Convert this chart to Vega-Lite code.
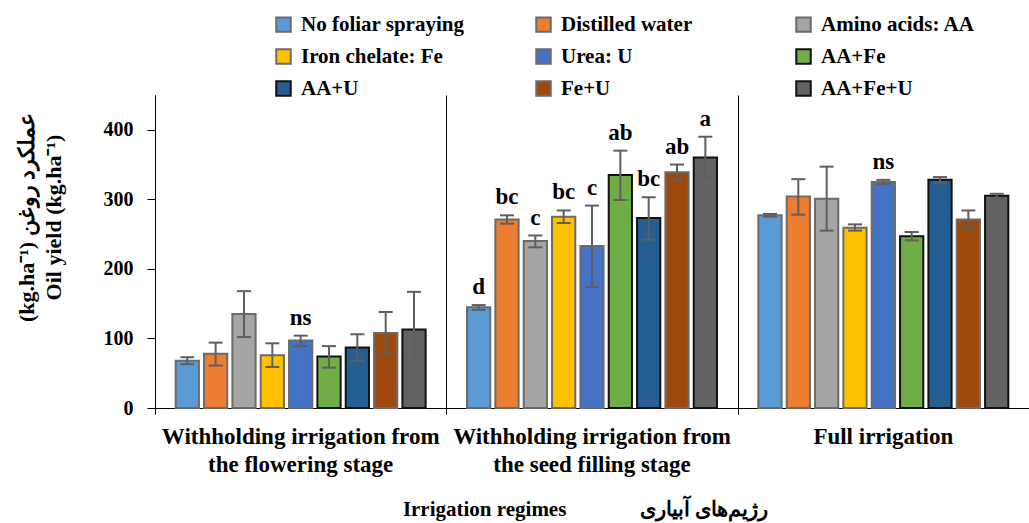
{
  "$schema": "https://vega.github.io/schema/vega-lite/v6.json",
  "width": 874,
  "height": 313,
  "autosize": {"type": "none"},
  "padding": {"left": 155, "top": 95, "right": 0, "bottom": 115},
  "background": "white",
  "config": {
    "font": "Liberation Serif",
    "view": {"stroke": null},
    "axis": {"grid": false, "domainColor": "black", "tickColor": "black", "labelColor": "black", "titleColor": "black", "labelFont": "Liberation Serif", "titleFont": "Liberation Serif", "labelFontWeight": "bold", "titleFontWeight": "bold"}
  },
  "datasets": {
    "bars": [
      {"regime": "Withholding irrigation from the flowering stage", "treatment": "No foliar spraying", "mean": 68, "lower": 63, "upper": 73, "letter": ""},
      {"regime": "Withholding irrigation from the flowering stage", "treatment": "Distilled water", "mean": 78, "lower": 61, "upper": 94, "letter": ""},
      {"regime": "Withholding irrigation from the flowering stage", "treatment": "Amino acids: AA", "mean": 135, "lower": 102, "upper": 168, "letter": ""},
      {"regime": "Withholding irrigation from the flowering stage", "treatment": "Iron chelate: Fe", "mean": 76, "lower": 59, "upper": 93, "letter": ""},
      {"regime": "Withholding irrigation from the flowering stage", "treatment": "Urea: U", "mean": 97, "lower": 89, "upper": 104, "letter": "ns"},
      {"regime": "Withholding irrigation from the flowering stage", "treatment": "AA+Fe", "mean": 74, "lower": 58, "upper": 89, "letter": ""},
      {"regime": "Withholding irrigation from the flowering stage", "treatment": "AA+U", "mean": 87, "lower": 68, "upper": 106, "letter": ""},
      {"regime": "Withholding irrigation from the flowering stage", "treatment": "Fe+U", "mean": 108, "lower": 77, "upper": 138, "letter": ""},
      {"regime": "Withholding irrigation from the flowering stage", "treatment": "AA+Fe+U", "mean": 113, "lower": 60, "upper": 167, "letter": ""},
      {"regime": "Withholding irrigation from the seed filling stage", "treatment": "No foliar spraying", "mean": 145, "lower": 141, "upper": 148, "letter": "d"},
      {"regime": "Withholding irrigation from the seed filling stage", "treatment": "Distilled water", "mean": 271, "lower": 265, "upper": 277, "letter": "bc"},
      {"regime": "Withholding irrigation from the seed filling stage", "treatment": "Amino acids: AA", "mean": 240, "lower": 231, "upper": 248, "letter": "c"},
      {"regime": "Withholding irrigation from the seed filling stage", "treatment": "Iron chelate: Fe", "mean": 275, "lower": 266, "upper": 284, "letter": "bc"},
      {"regime": "Withholding irrigation from the seed filling stage", "treatment": "Urea: U", "mean": 233, "lower": 174, "upper": 291, "letter": "c"},
      {"regime": "Withholding irrigation from the seed filling stage", "treatment": "AA+Fe", "mean": 335, "lower": 299, "upper": 370, "letter": "ab"},
      {"regime": "Withholding irrigation from the seed filling stage", "treatment": "AA+U", "mean": 273, "lower": 242, "upper": 303, "letter": "bc"},
      {"regime": "Withholding irrigation from the seed filling stage", "treatment": "Fe+U", "mean": 339, "lower": 328, "upper": 350, "letter": "ab"},
      {"regime": "Withholding irrigation from the seed filling stage", "treatment": "AA+Fe+U", "mean": 360, "lower": 330, "upper": 390, "letter": "a"},
      {"regime": "Full irrigation", "treatment": "No foliar spraying", "mean": 277, "lower": 275, "upper": 279, "letter": ""},
      {"regime": "Full irrigation", "treatment": "Distilled water", "mean": 304, "lower": 278, "upper": 329, "letter": ""},
      {"regime": "Full irrigation", "treatment": "Amino acids: AA", "mean": 301, "lower": 255, "upper": 347, "letter": ""},
      {"regime": "Full irrigation", "treatment": "Iron chelate: Fe", "mean": 259, "lower": 255, "upper": 264, "letter": ""},
      {"regime": "Full irrigation", "treatment": "Urea: U", "mean": 325, "lower": 322, "upper": 328, "letter": "ns"},
      {"regime": "Full irrigation", "treatment": "AA+Fe", "mean": 247, "lower": 241, "upper": 253, "letter": ""},
      {"regime": "Full irrigation", "treatment": "AA+U", "mean": 328, "lower": 324, "upper": 332, "letter": ""},
      {"regime": "Full irrigation", "treatment": "Fe+U", "mean": 271, "lower": 258, "upper": 284, "letter": ""},
      {"regime": "Full irrigation", "treatment": "AA+Fe+U", "mean": 305, "lower": 301, "upper": 308, "letter": ""}
    ],
    "groups": [
      {"regime": "Withholding irrigation from the flowering stage", "label": "Withholding irrigation from|the flowering stage"},
      {"regime": "Withholding irrigation from the seed filling stage", "label": "Withholding irrigation from|the seed filling stage"},
      {"regime": "Full irrigation", "label": "Full irrigation"}
    ]
  },
  "layer": [
    {
      "data": {"name": "bars"},
      "mark": {"type": "bar", "strokeWidth": 2},
      "encoding": {
        "x": {
          "field": "regime", "type": "nominal",
          "sort": ["Withholding irrigation from the flowering stage", "Withholding irrigation from the seed filling stage", "Full irrigation"],
          "scale": {"paddingInner": 0, "paddingOuter": 0},
          "axis": {
            "title": "Irrigation regimes\u00a0\u00a0\u00a0\u00a0\u00a0\u00a0\u00a0\u00a0\u00a0\u00a0\u00a0\u00a0\u00a0\u00a0رژیم‌های آبیاری",
            "titleFontSize": 21, "titlePadding": 84, "titleX": 430,
            "labels": false,
            "grid": true, "gridColor": "black", "gridWidth": 1,
            "ticks": true, "tickBand": "extent", "tickSize": 6
          }
        },
        "xOffset": {
          "field": "treatment", "type": "nominal",
          "sort": ["No foliar spraying", "Distilled water", "Amino acids: AA", "Iron chelate: Fe", "Urea: U", "AA+Fe", "AA+U", "Fe+U", "AA+Fe+U"],
          "scale": {"paddingInner": 0.18, "paddingOuter": 0.73}
        },
        "y": {
          "field": "mean", "type": "quantitative",
          "scale": {"domain": [0, 450], "nice": false},
          "axis": {
            "values": [0, 50, 100, 150, 200, 250, 300, 350, 400, 450],
            "title": ["(kg.ha⁻¹) عملکرد روغن", "Oil yield (kg.ha⁻¹)"],
            "titleFontSize": 22, "titleLineHeight": 27, "titlePadding": 38, "titleY": 122,
            "labelFontSize": 20, "labelPadding": 14, "tickSize": 8, "labelOverlap": false
          }
        },
        "color": {
          "field": "treatment", "type": "nominal",
          "scale": {
            "domain": ["No foliar spraying", "Distilled water", "Amino acids: AA", "Iron chelate: Fe", "Urea: U", "AA+Fe", "AA+U", "Fe+U", "AA+Fe+U"],
            "range": ["#5B9BD5", "#ED7D31", "#A5A5A5", "#FFC000", "#4472C4", "#70AD47", "#255E91", "#9E480E", "#636363"]
          },
          "legend": {
            "orient": "none", "legendX": 118, "legendY": -81, "columns": 3, "direction": "horizontal",
            "title": null, "padding": 0,
            "labelFont": "Liberation Serif", "labelFontSize": 21, "labelFontWeight": "bold", "labelColor": "black",
            "symbolType": "square", "symbolSize": 210, "symbolStrokeWidth": 2, "symbolStrokeColor": "#6b6b6b",
            "columnPadding": 67, "rowPadding": 9, "gridAlign": "all", "labelOffset": 7, "labelLimit": 400
          }
        },
        "stroke": {
          "field": "treatment", "type": "nominal", "legend": null,
          "scale": {
            "domain": ["No foliar spraying", "Distilled water", "Amino acids: AA", "Iron chelate: Fe", "Urea: U", "AA+Fe", "AA+U", "Fe+U", "AA+Fe+U"],
            "range": ["#6b6b6b", "#6b6b6b", "#6b6b6b", "#6b6b6b", "#6b6b6b", "#111111", "#111111", "#6b6b6b", "#111111"]
          }
        }
      }
    },
    {
      "data": {"name": "bars"},
      "mark": {"type": "rule", "color": "#5f5f5f", "strokeWidth": 2},
      "encoding": {
        "x": {"field": "regime", "type": "nominal", "sort": ["Withholding irrigation from the flowering stage", "Withholding irrigation from the seed filling stage", "Full irrigation"]},
        "xOffset": {"field": "treatment", "type": "nominal", "sort": ["No foliar spraying", "Distilled water", "Amino acids: AA", "Iron chelate: Fe", "Urea: U", "AA+Fe", "AA+U", "Fe+U", "AA+Fe+U"]},
        "y": {"field": "lower", "type": "quantitative"},
        "y2": {"field": "upper"}
      }
    },
    {
      "data": {"name": "bars"},
      "mark": {"type": "point", "shape": "M-1,0L1,0", "size": 196, "strokeWidth": 2, "color": "#5f5f5f", "filled": false, "opacity": 1},
      "encoding": {
        "x": {"field": "regime", "type": "nominal", "sort": ["Withholding irrigation from the flowering stage", "Withholding irrigation from the seed filling stage", "Full irrigation"]},
        "xOffset": {"field": "treatment", "type": "nominal", "sort": ["No foliar spraying", "Distilled water", "Amino acids: AA", "Iron chelate: Fe", "Urea: U", "AA+Fe", "AA+U", "Fe+U", "AA+Fe+U"]},
        "y": {"field": "lower", "type": "quantitative"}
      }
    },
    {
      "data": {"name": "bars"},
      "mark": {"type": "point", "shape": "M-1,0L1,0", "size": 196, "strokeWidth": 2, "color": "#5f5f5f", "filled": false, "opacity": 1},
      "encoding": {
        "x": {"field": "regime", "type": "nominal", "sort": ["Withholding irrigation from the flowering stage", "Withholding irrigation from the seed filling stage", "Full irrigation"]},
        "xOffset": {"field": "treatment", "type": "nominal", "sort": ["No foliar spraying", "Distilled water", "Amino acids: AA", "Iron chelate: Fe", "Urea: U", "AA+Fe", "AA+U", "Fe+U", "AA+Fe+U"]},
        "y": {"field": "upper", "type": "quantitative"}
      }
    },
    {
      "data": {"name": "bars"},
      "mark": {"type": "text", "font": "Liberation Serif", "fontWeight": "bold", "fontSize": 23, "color": "black", "baseline": "alphabetic", "dy": -11},
      "encoding": {
        "x": {"field": "regime", "type": "nominal", "sort": ["Withholding irrigation from the flowering stage", "Withholding irrigation from the seed filling stage", "Full irrigation"]},
        "xOffset": {"field": "treatment", "type": "nominal", "sort": ["No foliar spraying", "Distilled water", "Amino acids: AA", "Iron chelate: Fe", "Urea: U", "AA+Fe", "AA+U", "Fe+U", "AA+Fe+U"]},
        "y": {"field": "upper", "type": "quantitative"},
        "text": {"field": "letter"}
      }
    },
    {
      "data": {"name": "groups"},
      "mark": {"type": "text", "font": "Liberation Serif", "fontWeight": "bold", "fontSize": 23, "color": "black", "baseline": "top", "dy": 18, "lineBreak": "|", "lineHeight": 28, "align": "center"},
      "encoding": {
        "x": {"field": "regime", "type": "nominal", "sort": ["Withholding irrigation from the flowering stage", "Withholding irrigation from the seed filling stage", "Full irrigation"]},
        "y": {"datum": 0, "type": "quantitative"},
        "text": {"field": "label"}
      }
    }
  ]
}
